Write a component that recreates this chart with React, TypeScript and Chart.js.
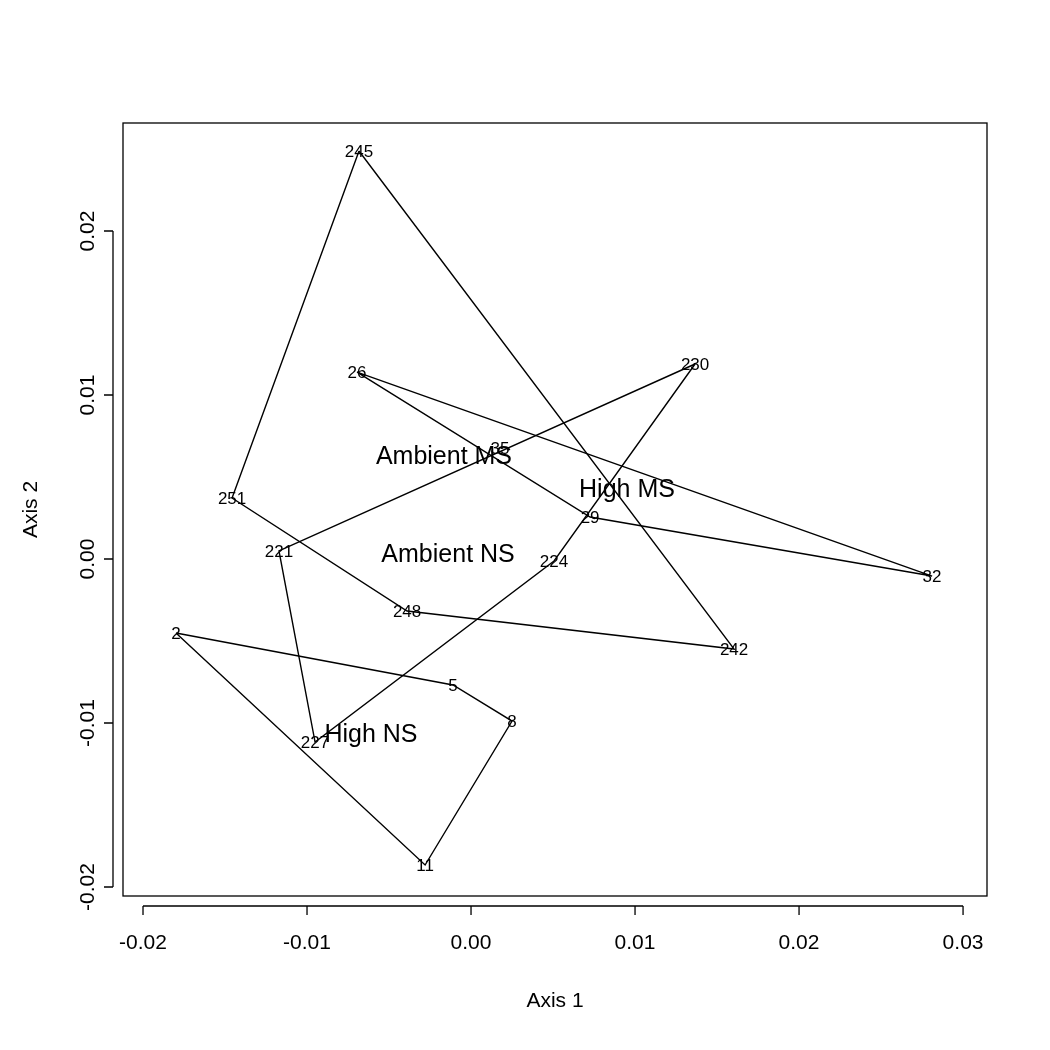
import React, { useEffect, useRef } from "react";
import { Chart, registerables } from "chart.js";

Chart.register(...registerables);

// Site scores (ordination axes)
const SITES = ["245", "251", "248", "242", "35", "26", "29", "32", "230", "221", "227", "224", "2", "5", "8", "11"];
const AXIS1 = [-0.00683, -0.01457, -0.0039, 0.01604, 0.00177, -0.00695, 0.00726, 0.02811, 0.01366, -0.01171, -0.00951, 0.00506, -0.01799, -0.0011, 0.0025, -0.0028];
const AXIS2 = [0.02488, 0.00372, -0.00317, -0.00549, 0.00677, 0.0114, 0.00256, -0.00104, 0.01189, 0.00049, -0.01116, -0.00012, -0.00451, -0.00768, -0.00988, -0.01866];

// Hulls (vertex order)
const HULL_AMBIENT_MS = ["245", "251", "248", "242"];
const HULL_HIGH_MS = ["26", "29", "32"];
const HULL_AMBIENT_NS = ["230", "221", "227", "224"];
const HULL_HIGH_NS = ["2", "5", "8", "11"];

// Group labels
const GROUPS = ["Ambient MS", "High MS", "Ambient NS", "High NS"];
const GROUP_LABEL_X = [-0.00165, 0.00951, -0.0014, -0.0061];
const GROUP_LABEL_Y = [0.00634, 0.00433, 0.00037, -0.01061];

// Axes
const X_TICKS = [-0.02, -0.01, 0, 0.01, 0.02, 0.03];
const Y_TICKS = [-0.02, -0.01, 0, 0.01, 0.02];
const X_TITLE = "Axis 1";
const Y_TITLE = "Axis 2";

const FONT = "'Liberation Sans', Arial, Helvetica, sans-serif";

function hullData(ids: string[]) {
  const pts = ids.map((id) => {
    const i = SITES.indexOf(id);
    return { x: AXIS1[i], y: AXIS2[i] };
  });
  pts.push(pts[0]);
  return pts;
}

const annotPlugin = {
  id: "annot",
  afterDraw(chart: any) {
    const ctx = chart.ctx;
    const { left, right, top, bottom } = chart.chartArea;
    const xs = chart.scales.x;
    const ys = chart.scales.y;
    ctx.save();
    ctx.strokeStyle = "#000";
    ctx.lineWidth = 1.3;
    // box
    ctx.strokeRect(left, top, right - left, bottom - top);
    // x axis line and ticks
    const x0 = xs.getPixelForValue(X_TICKS[0]);
    const x1 = xs.getPixelForValue(X_TICKS[X_TICKS.length - 1]);
    const ay = bottom + 10;
    ctx.beginPath();
    ctx.moveTo(x0, ay);
    ctx.lineTo(x1, ay);
    X_TICKS.forEach((v) => {
      const px = xs.getPixelForValue(v);
      ctx.moveTo(px, ay);
      ctx.lineTo(px, ay + 9);
    });
    // y axis line and ticks
    const y0 = ys.getPixelForValue(Y_TICKS[0]);
    const y1 = ys.getPixelForValue(Y_TICKS[Y_TICKS.length - 1]);
    const ax = left - 10;
    ctx.moveTo(ax, y0);
    ctx.lineTo(ax, y1);
    Y_TICKS.forEach((v) => {
      const py = ys.getPixelForValue(v);
      ctx.moveTo(ax, py);
      ctx.lineTo(ax - 9, py);
    });
    ctx.stroke();

    // site labels (centred on cap height, like R text())
    ctx.fillStyle = "#000";
    ctx.textAlign = "center";
    ctx.textBaseline = "alphabetic";
    ctx.font = `17px ${FONT}`;
    const siteMeta = chart.getDatasetMeta(4);
    siteMeta.data.forEach((el: any, i: number) => {
      ctx.fillText(SITES[i], el.x, el.y + 17 * 0.36);
    });
    // group labels
    ctx.font = `25px ${FONT}`;
    const grpMeta = chart.getDatasetMeta(5);
    grpMeta.data.forEach((el: any, i: number) => {
      ctx.fillText(GROUPS[i], el.x, el.y + 25 * 0.36);
    });
    ctx.restore();
  },
};

export default function App() {
  const ref = useRef<HTMLCanvasElement | null>(null);
  useEffect(() => {
    if (!ref.current) return;
    const lineDs = (ids: string[]) => ({
      type: "line" as const,
      data: hullData(ids),
      borderColor: "#000",
      borderWidth: 1.4,
      pointRadius: 0,
      showLine: true,
      fill: false,
      tension: 0,
    });
    const chart = new Chart(ref.current, {
      type: "scatter",
      data: {
        datasets: [
          lineDs(HULL_AMBIENT_MS),
          lineDs(HULL_HIGH_MS),
          lineDs(HULL_AMBIENT_NS),
          lineDs(HULL_HIGH_NS),
          {
            data: SITES.map((_, i) => ({ x: AXIS1[i], y: AXIS2[i] })),
            pointRadius: 0,
            showLine: false,
          },
          {
            data: GROUPS.map((_, i) => ({ x: GROUP_LABEL_X[i], y: GROUP_LABEL_Y[i] })),
            pointRadius: 0,
            showLine: false,
          },
        ] as any,
      },
      options: {
        animation: false,
        responsive: false,
        devicePixelRatio: 1,
        layout: { padding: { top: 123, right: 63, left: 0, bottom: 0 } },
        plugins: { legend: { display: false }, tooltip: { enabled: false } },
        scales: {
          x: {
            type: "linear",
            min: -0.02122,
            max: 0.03146,
            grid: { display: false, drawTicks: false },
            border: { display: false },
            afterBuildTicks: (s: any) => {
              s.ticks = X_TICKS.map((v) => ({ value: v }));
            },
            afterFit: (s: any) => {
              s.height = 154;
            },
            ticks: {
              padding: 35,
              color: "#000",
              font: { family: FONT, size: 21 },
              maxRotation: 0,
              autoSkip: false,
              callback: (v: any) => Number(v).toFixed(2),
            },
            title: {
              display: true,
              text: X_TITLE,
              color: "#000",
              font: { family: FONT, size: 21 },
              padding: { top: 0, bottom: 36 },
            },
          },
          y: {
            type: "linear",
            min: -0.020549,
            max: 0.026585,
            grid: { display: false, drawTicks: false },
            border: { display: false },
            afterBuildTicks: (s: any) => {
              s.ticks = Y_TICKS.map((v) => ({ value: v }));
            },
            afterFit: (s: any) => {
              s.width = 123;
            },
            ticks: {
              padding: 11,
              color: "#000",
              font: { family: FONT, size: 21 },
              minRotation: 90,
              maxRotation: 90,
              crossAlign: "center",
              autoSkip: false,
              callback: (v: any) => Number(v).toFixed(2),
            },
            title: {
              display: true,
              text: Y_TITLE,
              color: "#000",
              font: { family: FONT, size: 21 },
              padding: { top: 19, bottom: 0 },
            },
          },
        },
      } as any,
      plugins: [annotPlugin],
    });
    return () => chart.destroy();
  }, []);
  return (
    <div style={{ position: "absolute", left: 0, top: 0, width: 1050, height: 1050, background: "#fff" }}>
      <canvas ref={ref} width={1050} height={1050} />
    </div>
  );
}
